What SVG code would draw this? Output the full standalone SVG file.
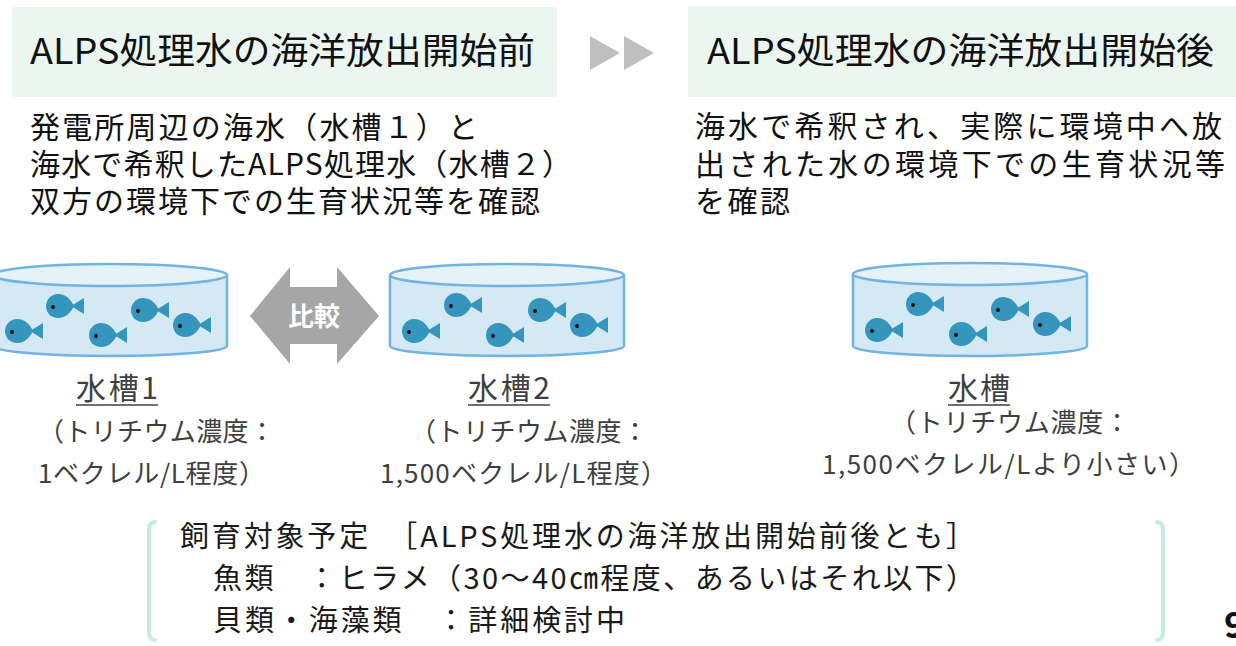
<svg xmlns="http://www.w3.org/2000/svg" width="1236" height="646" viewBox="0 0 1236 646">
  <style>
    text { font-family: "Noto Sans CJK JP", "Noto Sans", sans-serif; }
    .title { font-size: 36px; fill: #111; }
    .body { font-size: 30px; fill: #111; }
    .lbl { font-size: 26px; fill: #3f3f3f; }
    .lblh { font-size: 30px; fill: #3f3f3f; }
    .btm { font-size: 29px; fill: #1a1a1a; }
    .hdr { fill: #ecf6f1; }
    .tankside { fill: #d4e9f3; stroke: #71b3e2; stroke-width: 2.5; stroke-linejoin: round; }
    .tanktop { fill: #e5f2f8; stroke: #71b3e2; stroke-width: 2.5; }
    .fishbody { fill: #3595bd; }
    .uline { stroke: #3f3f3f; stroke-width: 1.6; }
    .brk { fill: none; stroke: #c6ecdc; stroke-width: 4; stroke-linecap: round; }
  </style>
  <defs>
    <!-- fish, origin at the eye -->
    <g id="fish">
      <path class="fishbody" d="M21,-1 C17,-9 12,-13 5,-13 C-2,-13 -7,-7 -7,-1 C-7,6 -2,11 5,11 C12,11 17,7 21,-1 Z"/>
      <path class="fishbody" d="M18,-1 L31,-9 L31,7 Z"/>
      <circle r="1.9" fill="#000"/>
    </g>
  </defs>

  <rect width="1236" height="646" fill="#fff"/>

  <!-- header: before discharge -->
  <g id="header-before">
    <rect class="hdr" x="12" y="7" width="545" height="90"/>
    <text class="title" x="30" y="64" textLength="505" lengthAdjust="spacingAndGlyphs">ALPS処理水の海洋放出開始前</text>
  </g>

  <!-- header: after discharge -->
  <g id="header-after">
    <rect class="hdr" x="688" y="6" width="548" height="91"/>
    <text class="title" x="707" y="64" textLength="507" lengthAdjust="spacingAndGlyphs">ALPS処理水の海洋放出開始後</text>
  </g>

  <!-- description, before -->
  <g id="desc-before">
    <text class="body" x="30" y="138" textLength="448">発電所周辺の海水（水槽１）と</text>
    <text class="body" x="30" y="175" textLength="542">海水で希釈したALPS処理水（水槽２）</text>
    <text class="body" x="30" y="212" textLength="510">双方の環境下での生育状況等を確認</text>
  </g>

  <!-- description, after -->
  <g id="desc-after">
    <text class="body" x="695" y="137" textLength="527">海水で希釈され、実際に環境中へ放</text>
    <text class="body" x="695" y="175" textLength="530">出された水の環境下での生育状況等</text>
    <text class="body" x="695" y="212" textLength="95">を確認</text>
  </g>

  <!-- tank 1 -->
  <g id="tank1">
    <path class="tankside" d="M-7,275 L-7,346 A117,10 0 0 0 227,346 L227,275 Z"/>
    <ellipse class="tanktop" cx="110" cy="275" rx="117" ry="11"/>
    <use href="#fish" x="53" y="307"/>
    <use href="#fish" x="12" y="332"/>
    <use href="#fish" x="96" y="336"/>
    <use href="#fish" x="138" y="311"/>
    <use href="#fish" x="180" y="326"/>
    <text class="lblh" x="76" y="399" textLength="82">水槽1</text>
    <line class="uline" x1="76" y1="405" x2="158" y2="405"/>
    <text class="lbl" x="38" y="441" textLength="237">（トリチウム濃度：</text>
    <text class="lbl" x="38" y="483" textLength="227">1ベクレル/L程度）</text>
  </g>

  <!-- tank 2 -->
  <g id="tank2">
    <path class="tankside" d="M390,275 L390,346 A117,10 0 0 0 624,346 L624,275 Z"/>
    <ellipse class="tanktop" cx="507" cy="275" rx="117" ry="11"/>
    <use href="#fish" x="451" y="306"/>
    <use href="#fish" x="409" y="332"/>
    <use href="#fish" x="493" y="336"/>
    <use href="#fish" x="535" y="311"/>
    <use href="#fish" x="577" y="326"/>
    <text class="lblh" x="468" y="399" textLength="82">水槽2</text>
    <line class="uline" x1="468" y1="405" x2="550" y2="405"/>
    <text class="lbl" x="410" y="441" textLength="238">（トリチウム濃度：</text>
    <text class="lbl" x="380" y="483" textLength="287">1,500ベクレル/L程度）</text>
  </g>

  <!-- tank after discharge -->
  <g id="tank3">
    <path class="tankside" d="M853,274 L853,346 A117,10 0 0 0 1087,346 L1087,274 Z"/>
    <ellipse class="tanktop" cx="970" cy="274" rx="117" ry="11"/>
    <use href="#fish" x="913" y="305"/>
    <use href="#fish" x="872" y="331"/>
    <use href="#fish" x="956" y="335"/>
    <use href="#fish" x="998" y="310"/>
    <use href="#fish" x="1040" y="325"/>
    <text class="lblh" x="948" y="399" textLength="62">水槽</text>
    <line class="uline" x1="948" y1="405" x2="1010" y2="405"/>
    <text class="lbl" x="890" y="432" textLength="240">（トリチウム濃度：</text>
    <text class="lbl" x="822" y="474" textLength="373">1,500ベクレル/Lより小さい）</text>
  </g>

  <!-- connectors -->
  <g id="connectors">
    <polygon points="590,36 620,53 590,70" fill="#bfbfbf"/>
    <polygon points="624,36 654,53 624,70" fill="#bfbfbf"/>
    <g id="compare-arrow">
      <polygon points="250,316 290,267 290,287 337,287 337,267 379,316 337,364 337,344 290,344 290,364" fill="#a6a6a6"/>
      <text x="314" y="326" text-anchor="middle" font-size="26" font-weight="bold" fill="#fff">比較</text>
    </g>
  </g>

  <!-- rearing plan -->
  <g id="plan">
    <path class="brk" d="M155,522 Q149,522 149,530 L149,632 Q149,640 155,640"/>
    <path class="brk" d="M1157,522 Q1163,522 1163,530 L1163,632 Q1163,640 1157,640"/>
    <text class="btm" x="180" y="547" textLength="795">飼育対象予定　［ALPS処理水の海洋放出開始前後とも］</text>
    <text class="btm" x="213" y="589" textLength="762">魚類　：ヒラメ（30～40㎝程度、あるいはそれ以下）</text>
    <text class="btm" x="213" y="631" textLength="412">貝類・海藻類　：詳細検討中</text>
  </g>

  <!-- page number -->
  <text x="1224" y="638" font-size="36" font-weight="bold" fill="#111" font-family="'Noto Sans', sans-serif">9</text>
</svg>
